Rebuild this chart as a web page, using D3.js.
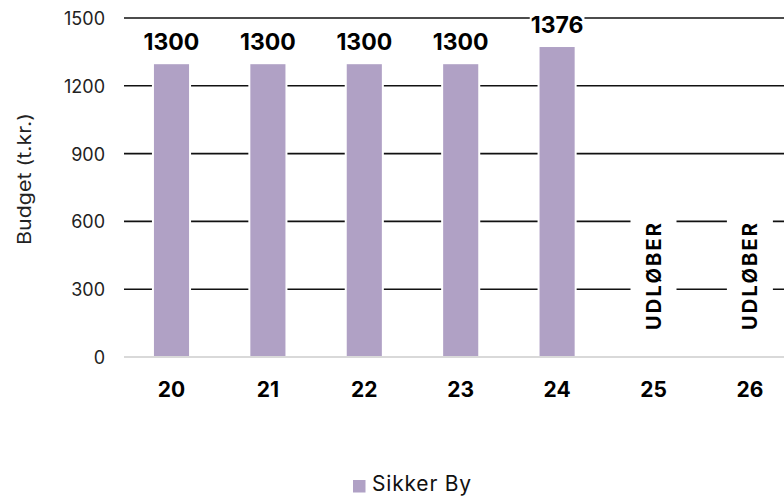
<!DOCTYPE html>
<html>
<head>
<meta charset="utf-8">
<script src="https://cdn.jsdelivr.net/npm/d3@7"></script>
<style>
  html, body { margin: 0; padding: 0; background: #fff; }
  svg { display: block; font-family: Inter, "Noto Sans", sans-serif; }
</style>
</head>
<body>
<div id="chart"></div>
<script>
// ---- data ----
const categories = ["20", "21", "22", "23", "24", "25", "26"];
const values = [1300, 1300, 1300, 1300, 1376, null, null];
const statusLabels = [null, null, null, null, null, "UDLØBER", "UDLØBER"];
const yTicks = [0, 300, 600, 900, 1200, 1500];
const seriesName = "Sikker By";
const yTitle = "Budget (t.kr.)";

const W = 784, H = 497;
const barColor = "#b0a1c5";

const svg = d3.select("#chart").append("svg")
  .attr("width", W).attr("height", H);

const x = d3.scaleBand()
  .domain(categories)
  .range([123.3, 123.3 + 7 * 96.4])
  .paddingInner(0.615)
  .paddingOuter(0.3075);

const y = d3.scaleLinear().domain([0, 1500]).range([357, 18]);

const plotLeft = 124, plotRight = 800;

// gridlines
svg.append("g").selectAll("line")
  .data(yTicks.filter(t => t > 0))
  .join("line")
  .attr("x1", plotLeft).attr("x2", plotRight)
  .attr("y1", d => y(d)).attr("y2", d => y(d))
  .attr("stroke", "#111").attr("stroke-width", 1.6);

// y axis labels
const yAxis = d3.axisLeft(y).tickValues(yTicks).tickFormat(d3.format("d")).tickSize(0).tickPadding(0);
const gy = svg.append("g").attr("transform", "translate(105,0)").call(yAxis);
gy.select(".domain").remove();
gy.selectAll("text")
  .attr("font-family", "Inter, sans-serif")
  .attr("font-size", 18)
  .attr("fill", "#222")
  .attr("dy", "0.36em");

// y title
svg.append("text")
  .attr("transform", "translate(31,179) rotate(-90)")
  .attr("text-anchor", "middle")
  .attr("font-size", 18.5)
  .attr("textLength", 132)
  .attr("lengthAdjust", "spacingAndGlyphs")
  .attr("fill", "#222")
  .text(yTitle);

// bars
const barData = categories.map((c, i) => ({ c, v: values[i], s: statusLabels[i] }));
svg.append("g").selectAll("rect")
  .data(barData.filter(d => d.v != null))
  .join("rect")
  .attr("x", d => x(d.c))
  .attr("width", x.bandwidth())
  .attr("y", d => y(d.v))
  .attr("height", d => y(0) - y(d.v))
  .attr("fill", barColor)
  .attr("stroke", "#fff").attr("stroke-width", 2);

// baseline
svg.append("line")
  .attr("x1", plotLeft).attr("x2", plotRight)
  .attr("y1", y(0)).attr("y2", y(0))
  .attr("stroke", "#d9d9d9").attr("stroke-width", 2);

// value labels with white background
const vl = svg.append("g").selectAll("g")
  .data(barData.filter(d => d.v != null))
  .join("g");
vl.append("text")
  .attr("x", d => x(d.c) + x.bandwidth() / 2)
  .attr("y", d => y(d.v) - 13)
  .attr("text-anchor", "middle")
  .attr("font-size", 23)
  .attr("font-weight", 700)
  .attr("fill", "#000")
  .text(d => d.v);
vl.each(function() {
  const g = d3.select(this);
  const bb = g.select("text").node().getBBox();
  g.insert("rect", "text")
    .attr("x", bb.x - 1).attr("y", bb.y + 3)
    .attr("width", bb.width + 2).attr("height", bb.height - 6)
    .attr("fill", "#fff");
});

// status labels (UDLØBER)
const sl = svg.append("g").selectAll("g")
  .data(barData.filter(d => d.s))
  .join("g");
sl.append("rect")
  .attr("x", d => x(d.c) + x.bandwidth() / 2 - 23)
  .attr("width", 46)
  .attr("y", 218)
  .attr("height", 116)
  .attr("fill", "#fff");
sl.append("text")
  .attr("transform", d => `translate(${x(d.c) + x.bandwidth() / 2 + 7},330) rotate(-90)`)
  .attr("text-anchor", "start")
  .attr("font-size", 20)
  .attr("font-weight", 700)
  .attr("fill", "#000")
  .attr("textLength", 107)
  .attr("lengthAdjust", "spacing")
  .text(d => d.s);

// x labels
svg.append("g").selectAll("text")
  .data(categories)
  .join("text")
  .attr("x", d => x(d) + x.bandwidth() / 2)
  .attr("y", 397)
  .attr("text-anchor", "middle")
  .attr("font-size", 21)
  .attr("font-weight", 700)
  .attr("fill", "#000")
  .text(d => d);

// legend
const lg = svg.append("g");
lg.append("rect")
  .attr("x", 353).attr("y", 480).attr("width", 12.5).attr("height", 12.5)
  .attr("fill", barColor);
lg.append("text")
  .attr("x", 372).attr("y", 491)
  .attr("font-size", 21)
  .attr("letter-spacing", 0.8)
  .attr("fill", "#111")
  .text(seriesName);
</script>
</body>
</html>
